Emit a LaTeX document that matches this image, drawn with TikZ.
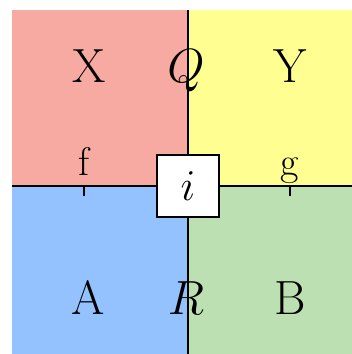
\RequirePackage{fix-cm}
\documentclass[tikz,border=0pt]{standalone}
\begin{document}
\begin{tikzpicture}[x=1pt,y=1pt,
  big/.style={font=\fontsize{48}{52}\selectfont, anchor=base, inner sep=0pt},
  small/.style={font=\fontsize{40}{44}\selectfont, anchor=base, inner sep=0pt},
  rule/.style={draw=black, line width=1.5pt},
  ibox/.style={draw=black, fill=white, line width=1.5pt, minimum width=62pt, minimum height=62pt, inner sep=0pt, font=\fontsize{44}{48}\selectfont}]
\definecolor{cred}{RGB}{247,170,161}
\definecolor{cyel}{RGB}{255,255,145}
\definecolor{cblu}{RGB}{148,194,255}
\definecolor{cgrn}{RGB}{188,224,177}
\useasboundingbox (0,0) rectangle (352,354);
\fill[cred] (12,344) rectangle (188,168);
\fill[cyel] (188,344) rectangle (352,168);
\fill[cblu] (12,168) rectangle (188,0);
\fill[cgrn] (188,168) rectangle (352,0);
\coordinate (top) at (188,344);
\coordinate (bot) at (188,0);
\coordinate (lft) at (12,168);
\coordinate (rgt) at (352,168);
\draw[rule] (top) -- (bot);
\draw[rule] (lft) -- (rgt);
\node[big] (X) at (89,271) {X};
\node[big] (Q) at (186,271) {$Q$};
\node[big] (Y) at (290,271) {Y};
\node[big] (A) at (88,39) {A};
\node[big] (R) at (186,39) {$R$};
\node[big] (B) at (290,39) {B};
\node[small] (f) at (84,178) {f};
\node[small] (g) at (290,178) {g};
\coordinate (ft) at (84,168);
\coordinate (fb) at (84,158);
\coordinate (gt) at (290,168);
\coordinate (gb) at (290,158);
\draw[rule] (ft) -- (fb);
\draw[rule] (gt) -- (gb);
\node[ibox] (i) at (188,168) {$i$};
\end{tikzpicture}
\end{document}
